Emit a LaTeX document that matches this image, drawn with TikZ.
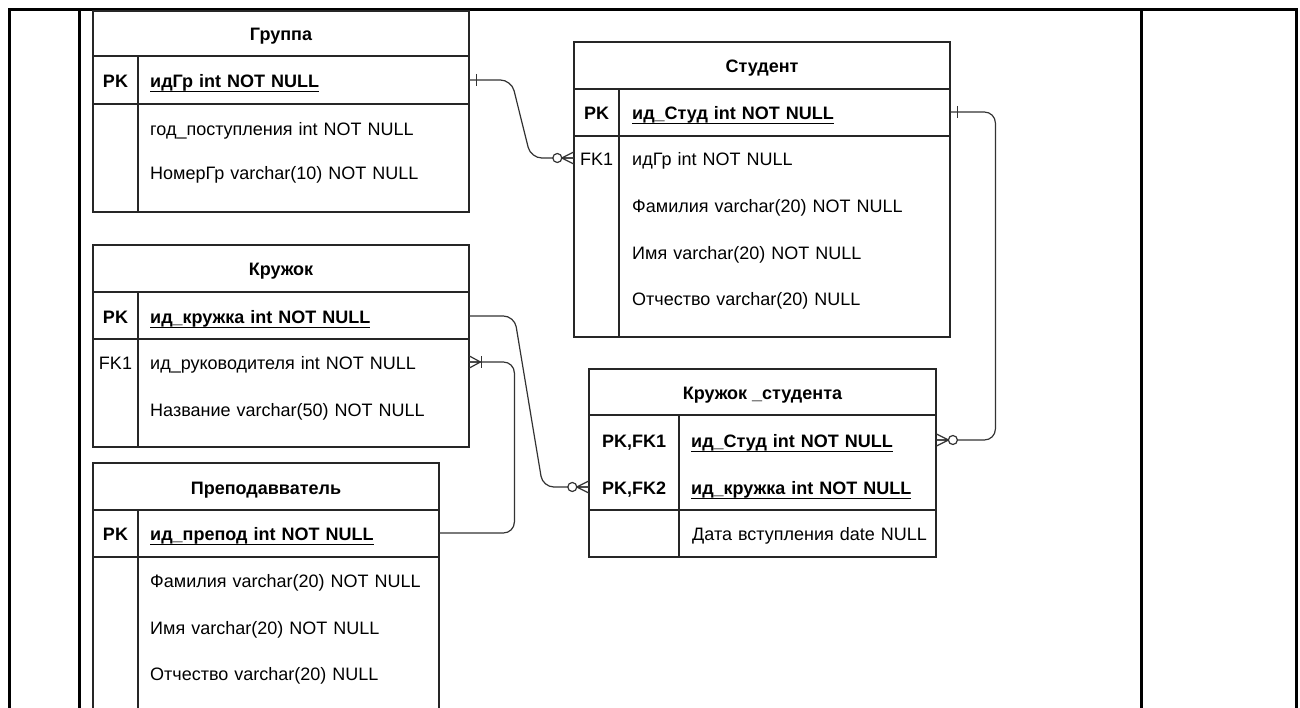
\documentclass[tikz,border=0pt]{standalone}
\usepackage{fontspec}
\setmainfont{Liberation Sans}
\newcommand\erfont{\fontsize{18}{21}\selectfont}
\newcommand\ulkey[1]{\setbox0\hbox{#1}\rlap{\rule[-4.4pt]{\wd0}{1.3pt}}\box0}

\begin{document}
\begin{tikzpicture}[x=1pt, y=-1pt, font=\erfont]
\useasboundingbox (0,0) rectangle (1300,708);
\clip (0,0) rectangle (1300,708);

\tikzset{FrameStyle/.style = {line width=3pt, black}}

\draw[FrameStyle] (9,720) -- (9,10) -- (1296,10) -- (1296,720);
\draw[FrameStyle] (79,10) -- (79,720);
\draw[FrameStyle] (1141,10) -- (1141,720);


\tikzset{BoxStyle/.style = {line width=1.2pt, draw=black!85}}

% Группа
\draw[BoxStyle] (93,11) rectangle (469,56);
\draw[BoxStyle] (93,56) rectangle (469,104);
\draw[BoxStyle] (93,104) rectangle (469,212);
\draw[BoxStyle] (138,56) -- (138,212);
% Студент
\draw[BoxStyle] (574,42) rectangle (950,89);
\draw[BoxStyle] (574,89) rectangle (950,136);
\draw[BoxStyle] (574,136) rectangle (950,337);
\draw[BoxStyle] (619,89) -- (619,337);
% Кружок
\draw[BoxStyle] (93,245) rectangle (469,292);
\draw[BoxStyle] (93,292) rectangle (469,339);
\draw[BoxStyle] (93,339) rectangle (469,447);
\draw[BoxStyle] (138,292) -- (138,447);
% Преподавватель
\draw[BoxStyle] (93,463) rectangle (439,510);
\draw[BoxStyle] (93,510) rectangle (439,557);
\draw[BoxStyle] (93,557) rectangle (439,720);
\draw[BoxStyle] (138,510) -- (138,720);
% Кружок _студента
\draw[BoxStyle] (589,369) rectangle (936,415);
\draw[BoxStyle] (589,415) rectangle (936,510);
\draw[BoxStyle] (589,510) rectangle (936,557);
\draw[BoxStyle] (679,415) -- (679,557);


\tikzset{TitleStyle/.style = {inner sep=0pt, text height=15pt, text depth=0pt,
   font=\erfont\bfseries},
 KeyStyle/.style = {inner sep=0pt, text height=15pt, text depth=0pt,
   minimum height=30pt, minimum width=#1},
 FieldStyle/.style = {anchor=west, inner sep=0pt, text height=15pt, text depth=0pt,
   minimum height=30pt, text width=#1, align=left} }

\node[TitleStyle] (GR) at (281,33.5) {Группа};
\node[KeyStyle=45pt, font=\erfont\bfseries] (GR_K1) at (115.5,80) {PK};
\node[FieldStyle=319pt] (GR_F1) at (150,80) {\bfseries\ulkey{идГр int NOT NULL}};
\node[FieldStyle=319pt] (GR_F2) at (150,128) {год\_поступления int NOT NULL};
\node[FieldStyle=319pt] (GR_F3) at (150,172) {НомерГр varchar(10) NOT NULL};

\node[TitleStyle] (ST) at (762,65.5) {Студент};
\node[KeyStyle=45pt, font=\erfont\bfseries] (ST_K1) at (596.5,112) {PK};
\node[FieldStyle=318pt] (ST_F1) at (632,112) {\bfseries\ulkey{ид\_Студ int NOT NULL}};
\node[KeyStyle=45pt] (ST_K2) at (596.5,158) {FK1};
\node[FieldStyle=318pt] (ST_F2) at (632,158) {идГр int NOT NULL};
\node[FieldStyle=318pt] (ST_F3) at (632,205) {Фамилия varchar(20) NOT NULL};
\node[FieldStyle=318pt] (ST_F4) at (632,252) {Имя varchar(20) NOT NULL};
\node[FieldStyle=318pt] (ST_F5) at (632,298) {Отчество varchar(20) NULL};

\node[TitleStyle] (KR) at (281,268.5) {Кружок};
\node[KeyStyle=45pt, font=\erfont\bfseries] (KR_K1) at (115.5,316) {PK};
\node[FieldStyle=319pt] (KR_F1) at (150,316) {\bfseries\ulkey{ид\_кружка int NOT NULL}};
\node[KeyStyle=45pt] (KR_K2) at (115.5,362) {FK1};
\node[FieldStyle=319pt] (KR_F2) at (150,362) {ид\_руководителя int NOT NULL};
\node[FieldStyle=319pt] (KR_F3) at (150,409) {Название varchar(50) NOT NULL};

\node[TitleStyle] (PR) at (266,486.5) {Преподавватель};
\node[KeyStyle=45pt, font=\erfont\bfseries] (PR_K1) at (115.5,533) {PK};
\node[FieldStyle=289pt] (PR_F1) at (150,533) {\bfseries\ulkey{ид\_препод int NOT NULL}};
\node[FieldStyle=289pt] (PR_F2) at (150,580) {Фамилия varchar(20) NOT NULL};
\node[FieldStyle=289pt] (PR_F3) at (150,627) {Имя varchar(20) NOT NULL};
\node[FieldStyle=289pt] (PR_F4) at (150,673) {Отчество varchar(20) NULL};

\node[TitleStyle] (KS) at (762.5,392) {Кружок \_студента};
\node[KeyStyle=90pt, font=\erfont\bfseries] (KS_K1) at (634,440) {PK,FK1};
\node[FieldStyle=245pt] (KS_F1) at (691,440) {\bfseries\ulkey{ид\_Студ int NOT NULL}};
\node[KeyStyle=90pt, font=\erfont\bfseries] (KS_K2) at (634,487) {PK,FK2};
\node[FieldStyle=245pt] (KS_F2) at (691,487) {\bfseries\ulkey{ид\_кружка int NOT NULL}};
\node[FieldStyle=245pt] (KS_F3) at (692,533) {Дата вступления date NULL};


\tikzset{LinkStyle/.style = {line width=1.2pt, draw=black!80, rounded corners=11pt},
 MarkStyle/.style = {line width=1.2pt, draw=black!80},
 ERone/.pic = {\draw[MarkStyle] (7,-6) -- (7,6);},
 ERzeroMany/.pic = {\draw[MarkStyle] (0,-6) -- (12,0) -- (0,6) (0,0) -- (12,0);
   \draw[MarkStyle, fill=white] (16.5,0) circle (4.5pt);},
 ERoneMany/.pic = {\draw[MarkStyle] (0,-6) -- (11,0) -- (0,6) (0,0) -- (11,0);
   \draw[MarkStyle] (12,-6) -- (12,6);} }

\draw[LinkStyle] (GR_F1.east) -- ++(42,0) -- ([xshift=-43pt]ST_K2.west) -- (ST_K2.west);
\draw[LinkStyle] (ST_F1.east) -- ++(45,0) |- (KS_F1.east);
\draw[LinkStyle] (KR_F1.east) -- ++(45,0) -- ([xshift=-46pt]KS_K2.west) -- (KS_K2.west);
\draw[LinkStyle] (KR_F2.east) -- ++(45,0) |- (PR_F1.east);

\pic at (GR_F1.east) {ERone};
\pic[rotate=180] at (ST_K2.west) {ERzeroMany};
\pic at (ST_F1.east) {ERone};
\pic at (KS_F1.east) {ERzeroMany};
\pic[rotate=180] at (KS_K2.west) {ERzeroMany};
\pic at (KR_F2.east) {ERoneMany};

\end{tikzpicture}
\end{document}
